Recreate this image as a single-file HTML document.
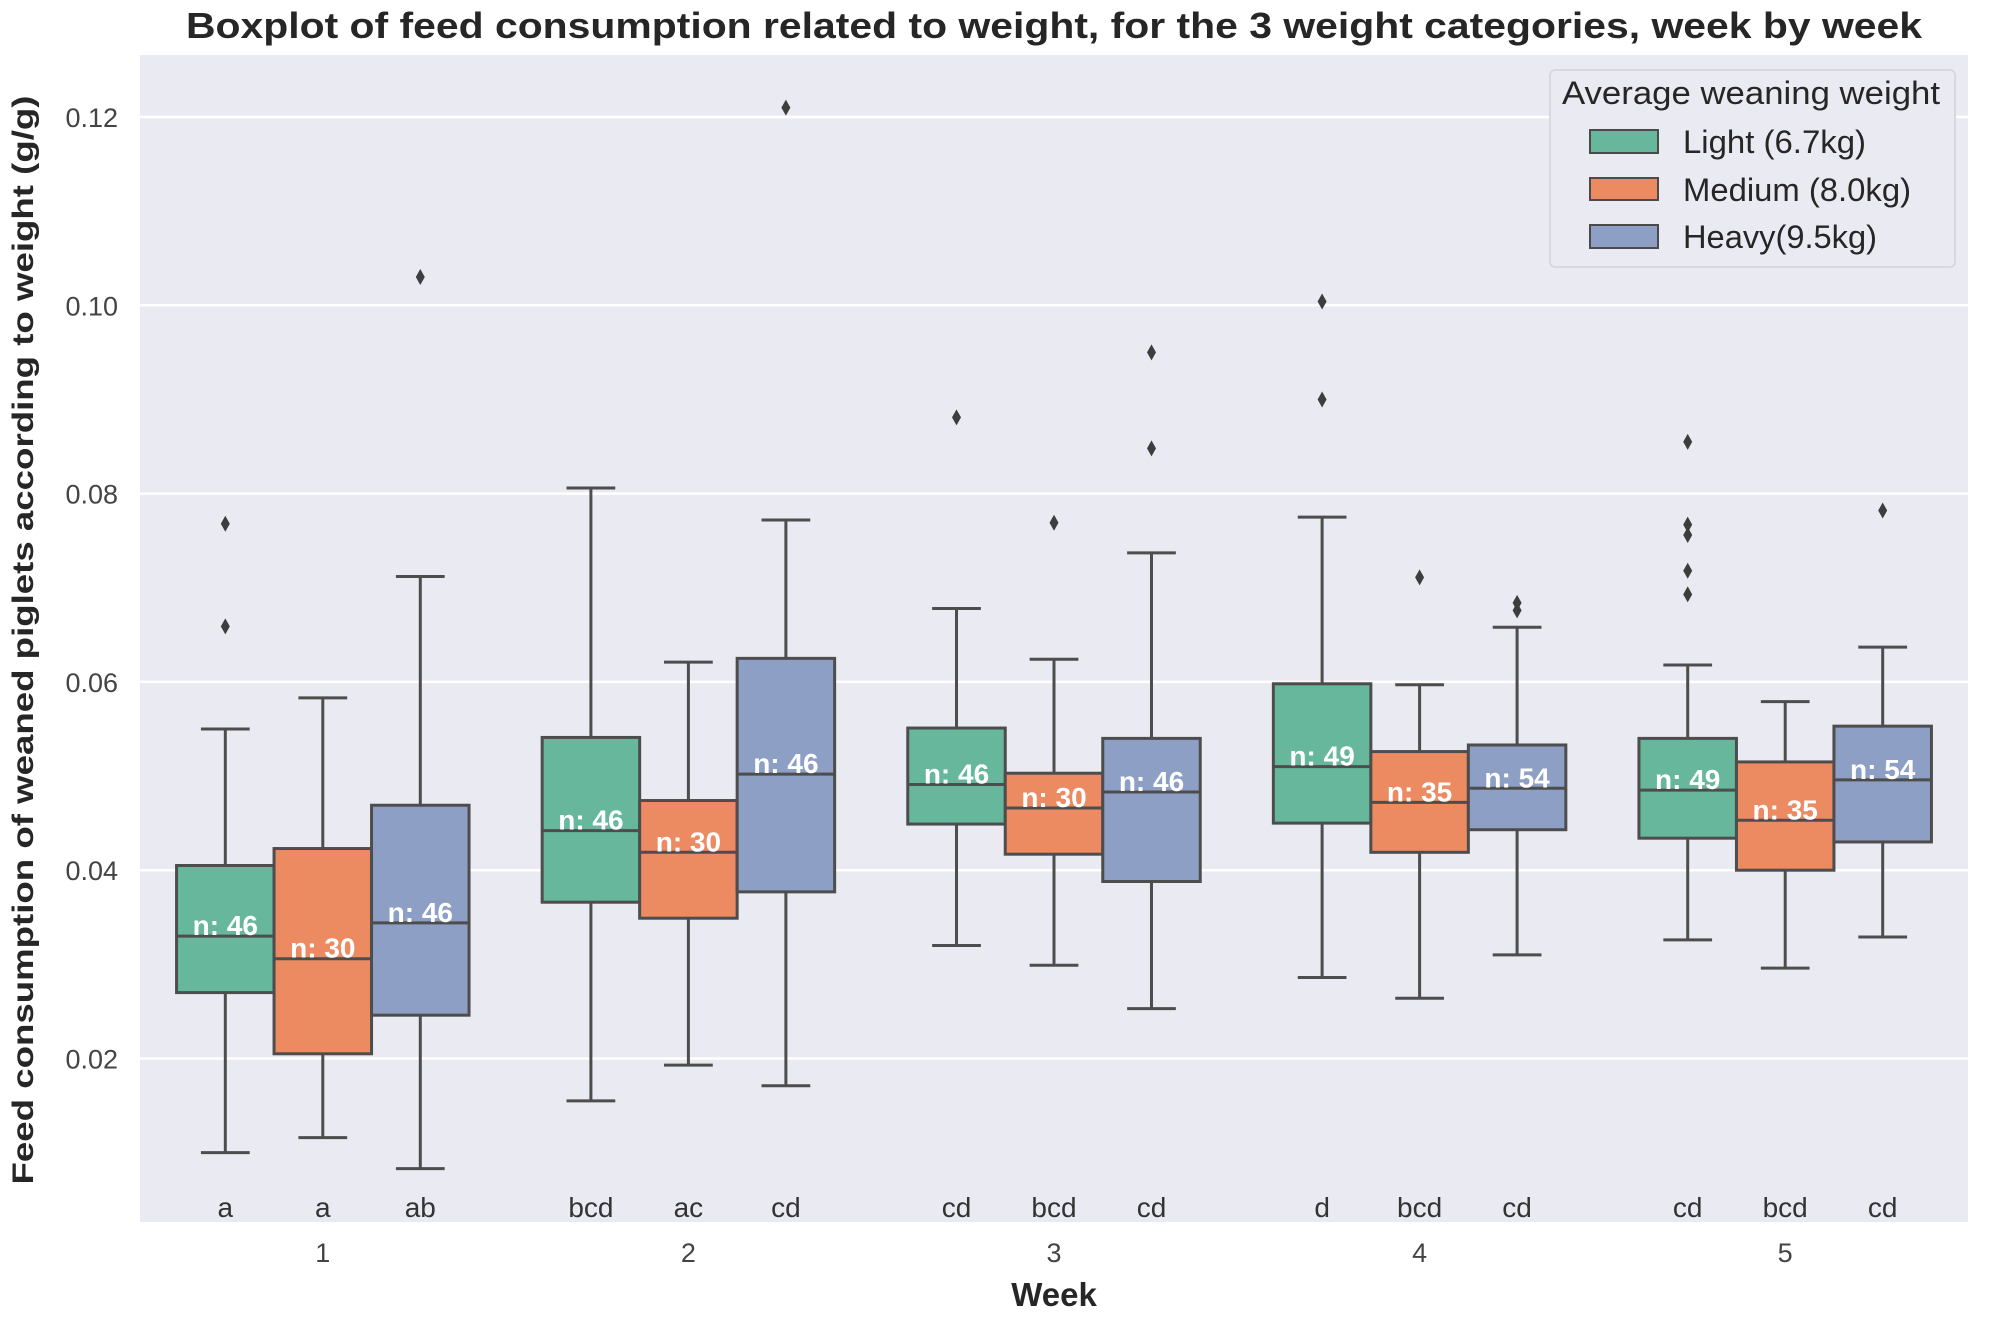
<!DOCTYPE html>
<html><head><meta charset="utf-8">
<style>
html,body{margin:0;padding:0;background:#fff;}
svg{display:block;font-family:"Liberation Sans",sans-serif;}
</style></head>
<body>
<svg id="chart" width="2008" height="1318" viewBox="0 0 2008 1318" xmlns="http://www.w3.org/2000/svg">
<rect x="140" y="55" width="1828" height="1167" fill="#eaeaf2"/>
<g id="grid"></g>
<g id="yticks"></g>
<g id="boxes"></g>
<g id="xticks"></g>
<text x="1054" y="38" text-anchor="middle" font-weight="bold" font-size="36" fill="#262626" textLength="1736" lengthAdjust="spacingAndGlyphs">Boxplot of feed consumption related to weight, for the 3 weight categories, week by week</text>
<text transform="translate(33,640) rotate(-90)" text-anchor="middle" font-weight="bold" font-size="30" fill="#262626" textLength="1089" lengthAdjust="spacingAndGlyphs">Feed consumption of weaned piglets according to weight (g/g)</text>
<text x="1054" y="1306" text-anchor="middle" font-weight="bold" font-size="33" fill="#262626">Week</text>
<g>
<rect x="1550" y="70" width="405" height="197" rx="5" fill="#eaeaf2" stroke="#d8d8e0" stroke-width="2"/>
<text x="1562" y="104" font-size="32" fill="#262626" textLength="378" lengthAdjust="spacingAndGlyphs">Average weaning weight</text>
<g><rect x="1590" y="130" width="68" height="23" fill="#66b79b" stroke="#4a4a4a" stroke-width="2"/><text x="1683" y="153" font-size="32" fill="#262626" textLength="183" lengthAdjust="spacingAndGlyphs">Light (6.7kg)</text></g>
<g><rect x="1590" y="178" width="68" height="22" fill="#ec8b62" stroke="#4a4a4a" stroke-width="2"/><text x="1683" y="201" font-size="32" fill="#262626" textLength="228" lengthAdjust="spacingAndGlyphs">Medium (8.0kg)</text></g>
<g><rect x="1590" y="225" width="68" height="23" fill="#8d9fc4" stroke="#4a4a4a" stroke-width="2"/><text x="1683" y="248" font-size="32" fill="#262626" textLength="194" lengthAdjust="spacingAndGlyphs">Heavy(9.5kg)</text></g>
</g>
</svg>
<script>
const weeks = ["1","2","3","4","5"];
const groups = ["light","medium","heavy"];
const colors = ["#66b79b","#ec8b62","#8d9fc4"];
const yTicks = [0.02,0.04,0.06,0.08,0.10,0.12];
const yTickLabels = ["0.02","0.04","0.06","0.08","0.10","0.12"];
// per week, per group: [lowWhisker, Q1, median, Q3, highWhisker]
const lightStats = [[0.0100,0.0270,0.0330,0.0405,0.0550],[0.0155,0.0366,0.0442,0.0541,0.0806],[0.0320,0.0449,0.0491,0.0551,0.0678],[0.0286,0.0450,0.0510,0.0598,0.0775],[0.0326,0.0434,0.0485,0.0540,0.0618]];
const mediumStats = [[0.0116,0.0205,0.0306,0.0423,0.0583],[0.0193,0.0349,0.0419,0.0474,0.0621],[0.0299,0.0417,0.0466,0.0503,0.0624],[0.0264,0.0419,0.0472,0.0526,0.0597],[0.0296,0.0400,0.0453,0.0515,0.0579]];
const heavyStats = [[0.0083,0.0246,0.0344,0.0469,0.0712],[0.0171,0.0377,0.0502,0.0625,0.0772],[0.0253,0.0388,0.0483,0.0540,0.0737],[0.0310,0.0443,0.0487,0.0533,0.0658],[0.0329,0.0430,0.0496,0.0553,0.0637]];
const lightOutliers = [[0.0768,0.0659],[],[0.0881],[0.1004,0.0900],[0.0855,0.0767,0.0756,0.0718,0.0693]];
const mediumOutliers = [[],[],[0.0769],[0.0711],[]];
const heavyOutliers = [[0.1030],[0.1210],[0.0950,0.0848],[0.0684,0.0676],[0.0782]];
const lightN = [46,46,46,49,49];
const mediumN = [30,30,30,35,35];
const heavyN = [46,46,46,54,54];
const lightLetters = ["a","bcd","cd","d","cd"];
const mediumLetters = ["a","ac","bcd","bcd","bcd"];
const heavyLetters = ["ab","cd","cd","cd","cd"];

const NS="http://www.w3.org/2000/svg";
const PL=140, PR=1968, PT=55, PB=1222;
const yScale = v => 117 + (0.12 - v)/0.02*188.3;
const bandW = (PR-PL)/weeks.length;
const xCenter = i => PL + bandW*(i+0.5);
const boxW = bandW*0.8/3;
const xGroup = (i,g) => xCenter(i) + (g-1)*boxW;
function mk(tag, attrs, parent){const e=document.createElementNS(NS,tag);for(const k in attrs)e.setAttribute(k,attrs[k]);parent.appendChild(e);return e;}
const grid=document.getElementById('grid'), yt=document.getElementById('yticks'), bx=document.getElementById('boxes'), xt=document.getElementById('xticks');
yTicks.forEach((v,k)=>{
  const l=mk('line',{x1:PL,x2:PR,y1:yScale(v),y2:yScale(v),stroke:'#fff','stroke-width':2.5},grid);
  
  
  const t=mk('text',{x:118,y:yScale(v)+10,'text-anchor':'end','font-size':27,fill:'#444'},yt);
  t.textContent=yTickLabels[k];
  
  
});
const stats=[lightStats,mediumStats,heavyStats], outs=[lightOutliers,mediumOutliers,heavyOutliers], ns=[lightN,mediumN,heavyN], lets=[lightLetters,mediumLetters,heavyLetters];
const LC='#4d4d4d';
weeks.forEach((w,i)=>{
  const t=mk('text',{x:xCenter(i),y:1262,'text-anchor':'middle','font-size':27,fill:'#444'},xt);
  t.textContent=w;
  
  
  groups.forEach((gname,g)=>{
    const s=stats[g][i], cx=xGroup(i,g);
    const gg=mk('g',{},bx);
    
    
    mk('line',{x1:cx,x2:cx,y1:yScale(s[0]),y2:yScale(s[1]),stroke:LC,'stroke-width':3},gg);
    mk('line',{x1:cx,x2:cx,y1:yScale(s[3]),y2:yScale(s[4]),stroke:LC,'stroke-width':3},gg);
    mk('line',{x1:cx-boxW/4,x2:cx+boxW/4,y1:yScale(s[0]),y2:yScale(s[0]),stroke:LC,'stroke-width':3},gg);
    mk('line',{x1:cx-boxW/4,x2:cx+boxW/4,y1:yScale(s[4]),y2:yScale(s[4]),stroke:LC,'stroke-width':3},gg);
    mk('rect',{x:cx-boxW/2,y:yScale(s[3]),width:boxW,height:yScale(s[1])-yScale(s[3]),fill:colors[g],stroke:LC,'stroke-width':3},gg);
    mk('line',{x1:cx-boxW/2,x2:cx+boxW/2,y1:yScale(s[2]),y2:yScale(s[2]),stroke:LC,'stroke-width':3},gg);
    outs[g][i].forEach(v=>{
      const y=yScale(v);
      const d=mk('path',{d:`M${cx},${y-8} L${cx+4.5},${y} L${cx},${y+8} L${cx-4.5},${y} Z`,fill:'#3d3d3d'},gg);
      
      
    });
    const nt=mk('text',{x:cx,y:yScale(s[2])-1,'text-anchor':'middle','font-size':28,'font-weight':'bold',fill:'#fff'},bx);
    nt.textContent='n: '+ns[g][i];
    
    
    const lt=mk('text',{x:cx,y:1217,'text-anchor':'middle','font-size':28,fill:'#333'},bx);
    lt.textContent=lets[g][i];
    
    
  });
});
</script>
</body></html>
